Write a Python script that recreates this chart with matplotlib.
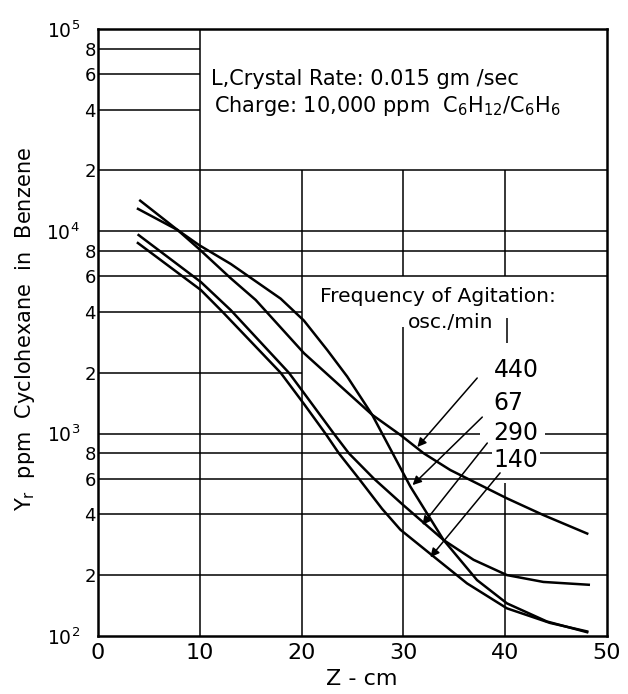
import math
import matplotlib
matplotlib.use("Agg")
import matplotlib.pyplot as plt
from matplotlib.ticker import FixedLocator, FuncFormatter, NullFormatter

# ---------------- data ----------------
z_440 = [4.05, 7.81, 9.93, 13.04, 15.49, 20.23, 23.5, 26.93, 29.71, 31.99, 34.61, 40.17, 43.75, 48.17]
y_440 = [14300, 10160, 8180, 5860, 4580, 2500, 1775, 1240, 985, 800, 661, 479, 396, 319]

z_67 = [3.82, 7.81, 9.93, 13.04, 17.94, 20.23, 22.52, 24.48, 26.93, 30.69, 33.95, 37.23, 40.17, 44.09, 48.17]
y_67 = [13000, 10160, 8550, 6900, 4650, 3620, 2590, 1915, 1240, 547, 298, 189, 145, 118, 104]

z_290 = [3.89, 10.10, 13.04, 18.75, 20.23, 23.17, 24.64, 27.09, 29.87, 33.95, 36.89, 40.17, 43.75, 48.33]
y_290 = [9670, 5620, 4080, 2000, 1588, 1000, 800, 600, 449, 298, 238, 200, 185, 179]

z_140 = [3.82, 10.10, 12.23, 17.94, 20.23, 22.35, 23.66, 25.62, 27.91, 29.71, 32.97, 36.25, 40.17, 44.41, 48.17]
y_140 = [8830, 5130, 4000, 2000, 1403, 1000, 800, 600, 425, 335, 247, 182, 137, 116, 105]

curve_labels = ["440", "67", "290", "140"]
x_ticks = [0, 10, 20, 30, 40, 50]
y_major = [1e2, 1e3, 1e4, 1e5]
y_minor = [2e2, 4e2, 6e2, 8e2, 2e3, 4e3, 6e3, 8e3, 2e4, 4e4, 6e4, 8e4]

# annotation arrows: (label pos, arrow tail, arrow tip)
label_pos = [(41.08, 1905), (40.3, 1309), (41.08, 931), (41.0, 684)]
arrow_tail = [(37.25, 1884), (37.75, 1208), (38.24, 899), (39.5, 640)]
arrow_tip = [(31.37, 859), (30.9, 557), (31.86, 354), (32.65, 245)]

plt.rcParams['font.family'] = ['DejaVu Sans']
plt.rcParams['mathtext.fontset'] = 'dejavusans'

fig = plt.figure(figsize=(6.28, 6.94), dpi=100)
ax = fig.add_axes([98/628, 58/694, 509/628, 607/694])
ax.set_yscale('log')
ax.set_xlim(0, 50)
ax.set_ylim(1e2, 1e5)

GL = dict(color='black', lw=1.1, zorder=1)
# horizontal grid segments
for yv in [2e4, 1e4, 8e3, 6e3, 6e2, 4e2, 2e2]:
    ax.hlines(yv, 0, 50, **GL)
for yv in [8e4, 6e4, 4e4]:
    ax.hlines(yv, 0, 10, **GL)
for yv in [4e3, 2e3]:
    ax.hlines(yv, 0, 20, **GL)
ax.hlines(1e3, 0, 37.5, **GL)
ax.hlines(1e3, 43.9, 50, **GL)
ax.hlines(8e2, 0, 38.7, **GL)
ax.hlines(8e2, 43.4, 50, **GL)
# vertical grid segments
ax.vlines(10, 1e2, 1e5, **GL)
ax.vlines(20, 1e2, 2e4, **GL)
ax.vlines(30, 1e2, 3365, **GL)
ax.vlines(30, 6e3, 2e4, **GL)
ax.vlines(40, 1e2, 570, **GL)
ax.vlines(40, 6e3, 2e4, **GL)
ax.vlines(40.2, 2800, 3730, **GL)

# curves
CL = dict(color='black', lw=1.8, solid_joinstyle='round', solid_capstyle='butt', zorder=3)
ax.plot(z_440, y_440, **CL)
ax.plot(z_67, y_67, **CL)
ax.plot(z_290, y_290, **CL)
ax.plot(z_140, y_140, **CL)

# labels and arrows
for lab, lp, tl, tp in zip(curve_labels, label_pos, arrow_tail, arrow_tip):
    ax.text(lp[0], lp[1], lab, ha='center', va='baseline', fontsize=17, zorder=4)
    ax.annotate('', xy=tp, xytext=tl,
                arrowprops=dict(arrowstyle='-|>', color='black', lw=1.1,
                                mutation_scale=13, shrinkA=0, shrinkB=0), zorder=4)

# text box
ax.text(11.1, 52800, "L,Crystal Rate: 0.015 gm /sec", ha='left', va='baseline', fontsize=15)
ax.text(11.4, 38900, "Charge: 10,000 ppm  C$_6$H$_{12}$/C$_6$H$_6$", ha='left', va='baseline', fontsize=15)
ax.text(21.8, 4480, "Frequency of Agitation:", ha='left', va='baseline', fontsize=14.6)
ax.text(30.4, 3330, "osc./min", ha='left', va='baseline', fontsize=14.6)

# ticks
ax.xaxis.set_major_locator(FixedLocator(x_ticks))
ax.xaxis.set_major_formatter(FuncFormatter(lambda v, p: f"{int(v)}"))
ax.yaxis.set_major_locator(FixedLocator(y_major))
ax.yaxis.set_minor_locator(FixedLocator(y_minor))
ax.yaxis.set_major_formatter(FuncFormatter(lambda v, p: r"$\mathregular{10^{%d}}$" % round(math.log10(v))))
ax.yaxis.set_minor_formatter(FuncFormatter(lambda v, p: f"{int(round(v / 10 ** math.floor(math.log10(v))))}"))
ax.xaxis.set_minor_formatter(NullFormatter())
ax.tick_params(axis='x', which='both', length=0, pad=5, labelsize=16)
ax.tick_params(axis='y', which='major', length=0, pad=13, labelsize=13.5)
ax.tick_params(axis='y', which='minor', length=0, pad=1.5, labelsize=13)

for s in ax.spines.values():
    s.set_linewidth(1.8)

fig.text(25/628, 1 - 329/694, r"Y$_\mathregular{r}$  ppm  Cyclohexane  in  Benzene",
         rotation=90, ha='center', va='center', fontsize=15)
fig.text(362/628, 1 - 679/694, "Z - cm", ha='center', va='center', fontsize=16)

fig.savefig("out.png", dpi=100)
